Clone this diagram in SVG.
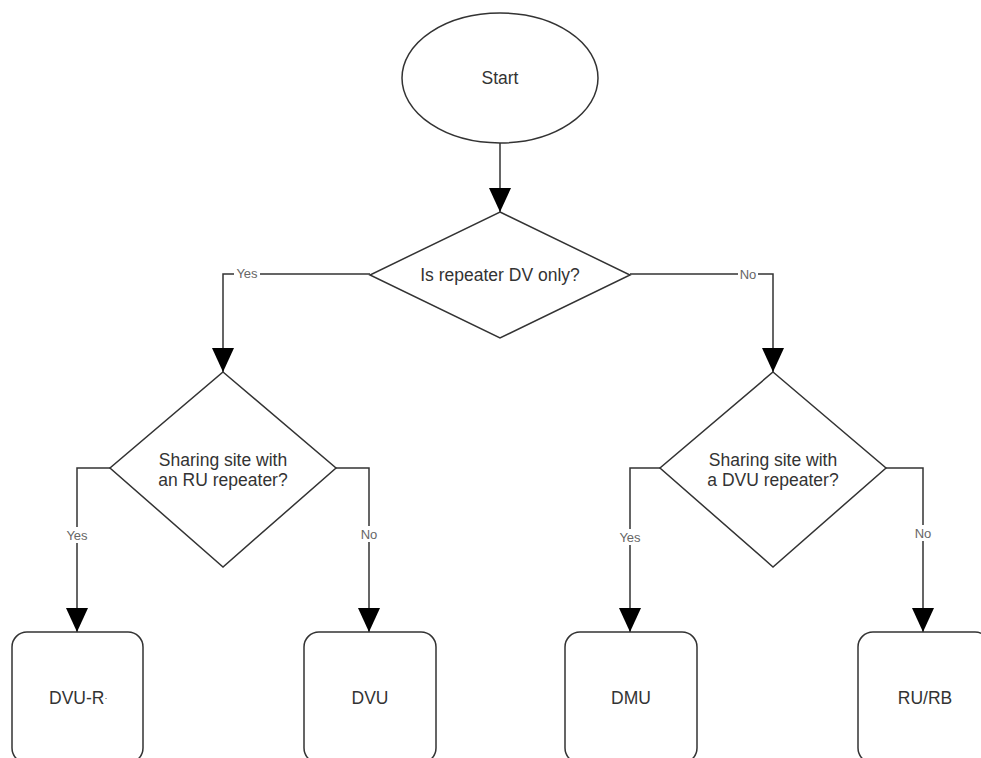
<svg xmlns="http://www.w3.org/2000/svg" width="981" height="758" viewBox="0 0 981 758">
<style>
.shape{fill:#fff;stroke:#333;stroke-width:1.5}
.t{font-family:"Liberation Sans",Arial,sans-serif;font-size:17.5px;fill:#333;text-anchor:middle;dominant-baseline:central}
.lbl{font-family:"Liberation Sans",Arial,sans-serif;font-size:13px;fill:#666;text-anchor:middle;dominant-baseline:central}
.c{fill:none;stroke:#333;stroke-width:1.5;marker-end:url(#arr)}
.bg{fill:#fff}
</style>
<defs>
<marker id="arr" markerUnits="userSpaceOnUse" markerWidth="24" markerHeight="22" viewBox="0 0 24 22" refX="24" refY="11" orient="auto">
<path d="M0,0 L24,11 L0,22 z" fill="#000"/>
</marker>
</defs>
<rect width="981" height="758" fill="#fff"/>
<g id="connectors">
<path class="c" d="M500,143 L500,212"/>
<path class="c" d="M370,274 L223,274 L223,372"/>
<path class="c" d="M630,274 L773,274 L773,372"/>
<path class="c" d="M110,468 L77,468 L77,632"/>
<path class="c" d="M336,468 L369,468 L369,632"/>
<path class="c" d="M660,468 L630,468 L630,632"/>
<path class="c" d="M886,468 L923,468 L923,632"/>
<rect class="bg" x="234" y="266" width="26" height="16"/>
<text class="lbl" x="247" y="273">Yes</text>
<rect class="bg" x="738" y="266" width="20" height="16"/>
<text class="lbl" x="748" y="274">No</text>
<rect class="bg" x="64" y="527" width="26" height="16"/>
<text class="lbl" x="77" y="535">Yes</text>
<rect class="bg" x="359" y="526" width="20" height="16"/>
<text class="lbl" x="369" y="534">No</text>
<rect class="bg" x="617" y="529" width="26" height="16"/>
<text class="lbl" x="630" y="537">Yes</text>
<rect class="bg" x="913" y="525" width="20" height="16"/>
<text class="lbl" x="923" y="533">No</text>
</g>
<g id="start">
<ellipse class="shape" cx="500" cy="78" rx="98" ry="65"/>
<text class="t" x="500" y="78">Start</text>
</g>
<g id="q-dv-only">
<polygon class="shape" points="500,212 630,275 500,338 370,275"/>
<text class="t" x="500" y="275">Is repeater DV only?</text>
</g>
<g id="q-ru-site">
<polygon class="shape" points="223,372 336,468 223,567 110,468"/>
<text class="t" x="223" y="460">Sharing site with</text>
<text class="t" x="223" y="480">an RU repeater?</text>
</g>
<g id="q-dvu-site">
<polygon class="shape" points="773,372 886,468 773,567 660,468"/>
<text class="t" x="773" y="460">Sharing site with</text>
<text class="t" x="773" y="480">a DVU repeater?</text>
</g>
<g id="dvu-r">
<rect class="shape" x="12" y="632" width="131" height="131" rx="15"/>
<text class="t" x="49" y="698" style="text-anchor:start">DVU-R<tspan font-size="9px">·</tspan></text>
</g>
<g id="dvu">
<rect class="shape" x="304" y="632" width="132" height="131" rx="15"/>
<text class="t" x="370" y="698">DVU</text>
</g>
<g id="dmu">
<rect class="shape" x="565" y="632" width="132" height="131" rx="15"/>
<text class="t" x="631" y="698">DMU</text>
</g>
<g id="ru-rb">
<rect class="shape" x="858" y="632" width="132" height="131" rx="15"/>
<text class="t" x="925" y="698">RU/RB</text>
</g>
</svg>
